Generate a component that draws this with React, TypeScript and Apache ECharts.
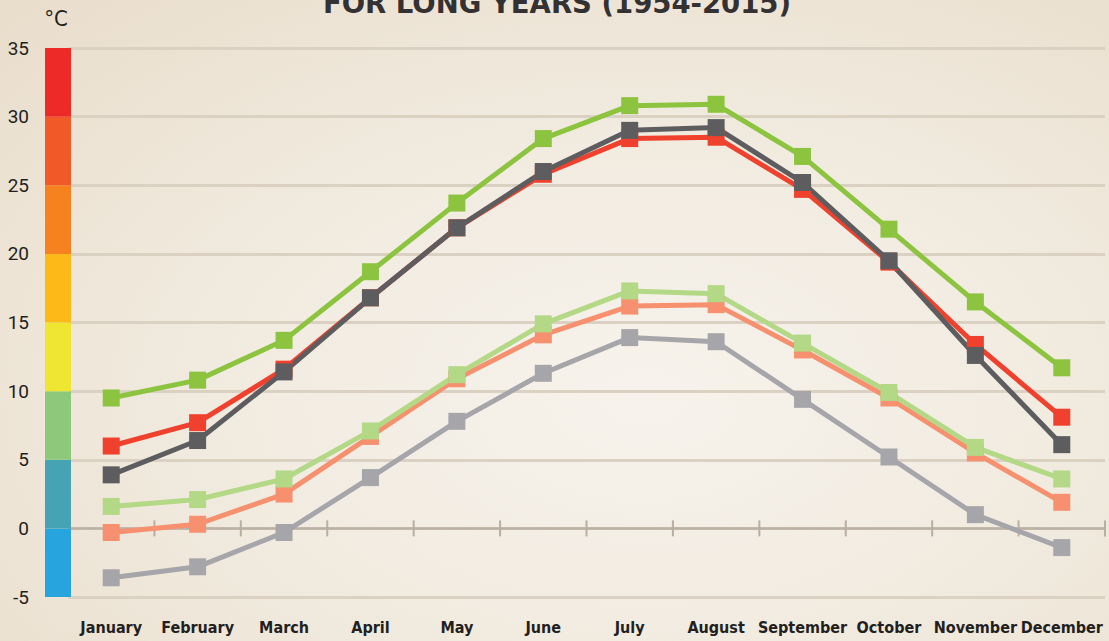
import React, { useEffect, useRef } from "react";
import * as echarts from "echarts";

const months = ["January", "February", "March", "April", "May", "June", "July", "August", "September", "October", "November", "December"];
const yTicks = { min: -5, max: 35, interval: 5 };

const absMax = [9.5, 10.8, 13.7, 18.7, 23.7, 28.4, 30.8, 30.9, 27.1, 21.8, 16.5, 11.7];
const meanMax = [6.0, 7.7, 11.6, 16.8, 21.9, 25.8, 28.4, 28.5, 24.7, 19.4, 13.4, 8.1];
const avgMax = [3.9, 6.4, 11.4, 16.8, 21.9, 26.0, 29.0, 29.2, 25.2, 19.5, 12.6, 6.1];
const lightGreen = [1.6, 2.1, 3.6, 7.1, 11.2, 14.9, 17.3, 17.1, 13.5, 9.9, 5.9, 3.6];
const salmon = [-0.3, 0.3, 2.5, 6.7, 10.9, 14.1, 16.2, 16.3, 13.0, 9.5, 5.5, 1.9];
const lightGray = [-3.6, -2.8, -0.3, 3.7, 7.8, 11.3, 13.9, 13.6, 9.4, 5.2, 1.0, -1.4];

const bandStops = [-5, 0, 5, 10, 15, 20, 25, 30, 35];
const bandColors = ["#27a4dd", "#46a3b3", "#8ec97b", "#eee632", "#fcb918", "#f6821f", "#f15a28", "#ee2a28"];
const zeroLineValue = 0;

const titleText = "FOR LONG YEARS (1954-2015)";
const unitText = "°C";

export default function App() {
  const ref = useRef<HTMLDivElement>(null);
  useEffect(() => {
    if (!ref.current) return;
    const chart = echarts.init(ref.current, null, { renderer: "svg" });
    const lineSeries = (name: string, data: number[], color: string) => ({
      name,
      type: "line",
      data,
      symbol: "rect",
      symbolSize: 17,
      lineStyle: { color, width: 5 },
      itemStyle: { color },
      emphasis: { disabled: true },
      z: 3,
    });
    const bandData = bandColors.map((c, i) => [0, bandStops[i], bandStops[i + 1]]);
    const axisData = months.map((m) => [m, zeroLineValue]);
    chart.setOption({
      animation: false,
      grid: { left: 68, right: 4, top: 48, bottom: 44, containLabel: false, outerBoundsMode: "none" },
      graphic: [
        {
          type: "text",
          style: {
            text: titleText,
            x: 557,
            y: -11,
            align: "center",
            verticalAlign: "top",
            fontFamily: "DejaVu Sans",
            fontWeight: "bold",
            fontSize: 27.5,
            fill: "#333132",
          },
        },
        {
          type: "text",
          style: {
            text: unitText,
            x: 56,
            y: 18,
            align: "center",
            verticalAlign: "middle",
            fontFamily: "DejaVu Sans Condensed",
            fontSize: 22,
            fill: "#231f20",
          },
        },
      ],
      xAxis: {
        type: "category",
        data: months,
        boundaryGap: true,
        axisLine: { show: false },
        axisTick: { show: false },
        axisLabel: {
          interval: 0,
          margin: 22,
          fontFamily: "DejaVu Sans Condensed",
          fontWeight: "bold",
          fontSize: 16,
          color: "#231f20",
        },
        splitLine: { show: false },
      },
      yAxis: {
        type: "value",
        min: yTicks.min,
        max: yTicks.max,
        interval: yTicks.interval,
        axisLine: { show: false },
        axisTick: { show: false },
        axisLabel: { margin: 39, fontFamily: "Roboto", fontSize: 19, color: "#231f20" },
        splitLine: { show: true, lineStyle: { color: "#dbd1c3", width: 3 } },
      },
      series: [
        {
          type: "custom",
          data: axisData,
          encode: { x: 0, y: 1 },
          clip: false,
          z: 1,
          silent: true,
          renderItem: (params: any, api: any) => {
            const c = api.coord([params.dataIndex, zeroLineValue]);
            const bw = api.size([1, 0])[0];
            const cs = params.coordSys;
            const st = { stroke: "#b8aea1", lineWidth: 2 };
            const children: any[] = [
              { type: "line", shape: { x1: c[0] + bw / 2, y1: c[1] - 8, x2: c[0] + bw / 2, y2: c[1] + 8 }, style: st },
            ];
            if (params.dataIndex === 0) {
              children.push({ type: "line", shape: { x1: cs.x, y1: c[1], x2: cs.x + cs.width, y2: c[1] }, style: { stroke: "#bab0a3", lineWidth: 2.5 } });
            }
            return { type: "group", children };
          },
        },
        {
          type: "custom",
          data: bandData,
          encode: { x: 0, y: [1, 2] },
          clip: false,
          z: 5,
          silent: true,
          renderItem: (params: any, api: any) => {
            const y0 = api.coord([0, api.value(1)])[1];
            const y1 = api.coord([0, api.value(2)])[1];
            const cs = params.coordSys;
            return {
              type: "rect",
              shape: { x: cs.x - 23, y: y1, width: 26, height: y0 - y1 },
              style: { fill: bandColors[params.dataIndex] },
            };
          },
        },
        lineSeries("Min absolute", lightGray, "#a6a6aa"),
        lineSeries("Min", salmon, "#f6906f"),
        lineSeries("Min avg", lightGreen, "#b3d886"),
        lineSeries("Max", meanMax, "#ef412d"),
        lineSeries("Max avg", avgMax, "#5d5d5f"),
        lineSeries("Max absolute", absMax, "#8cc43f"),
      ],
    });
    return () => chart.dispose();
  }, []);
  return (
    <div
      style={{
        position: "absolute",
        left: 0,
        top: 0,
        width: 1109,
        height: 641,
        overflow: "hidden",
        background: "radial-gradient(ellipse at 58% 62%, #f7f3ec 0%, #f1ebe0 45%, #e9ddcb 100%)",
      }}
    >
      <div ref={ref} style={{ width: 1109, height: 641 }} />
    </div>
  );
}
